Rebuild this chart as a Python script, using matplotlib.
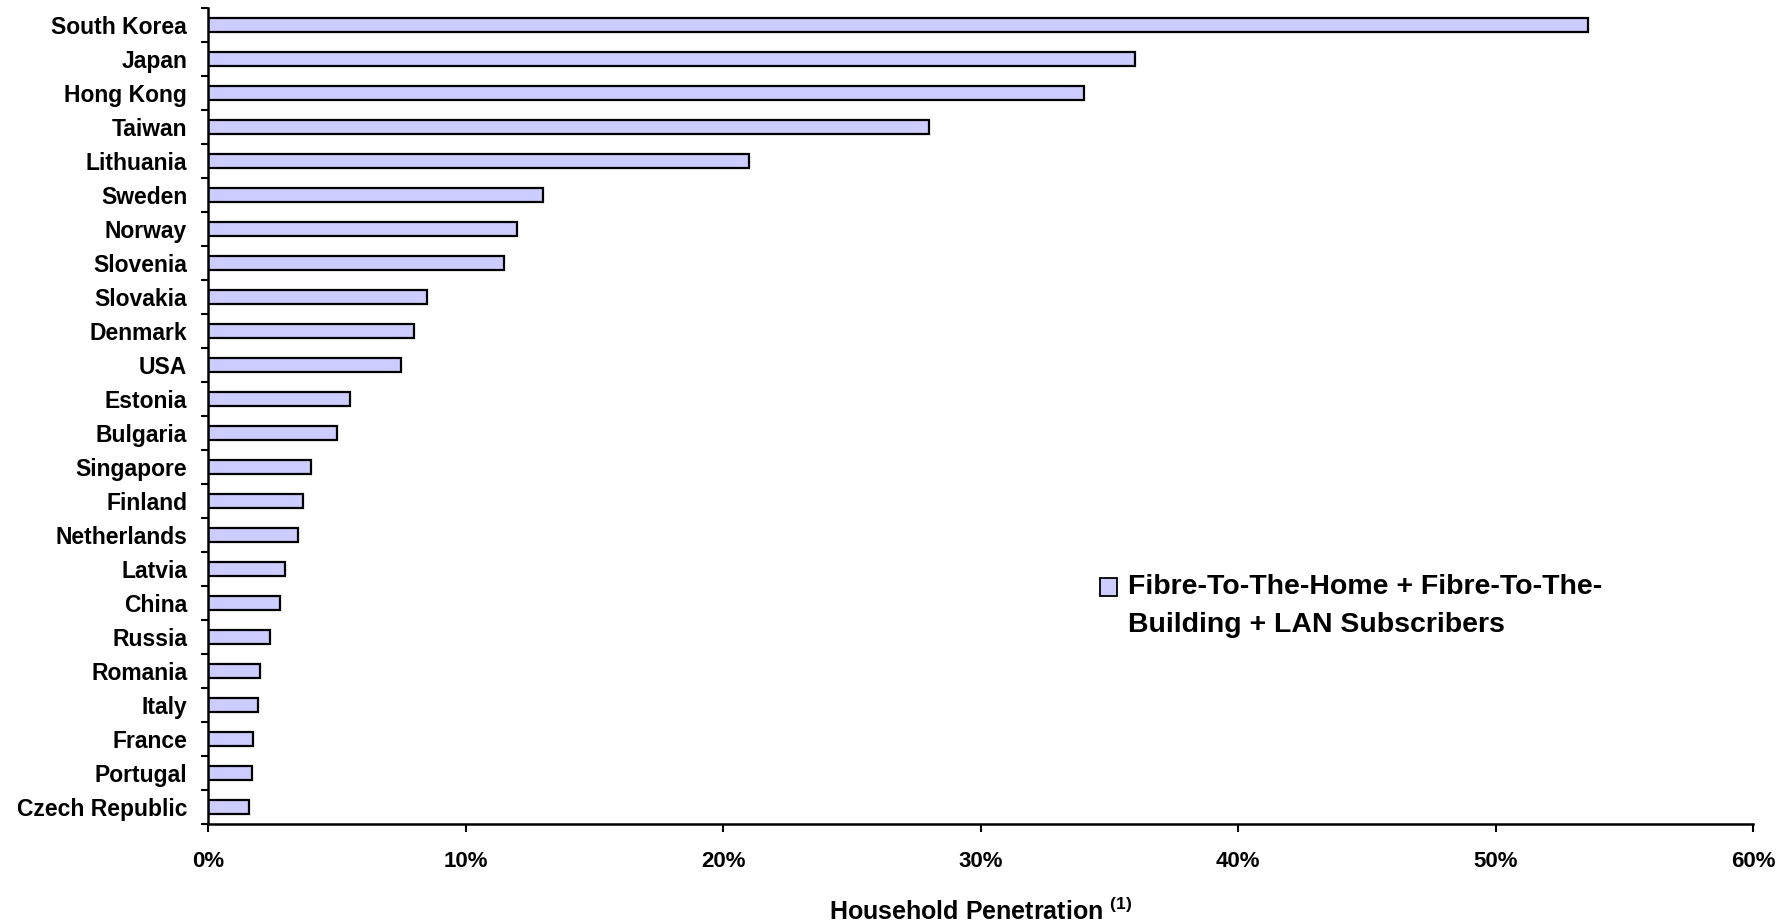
import numpy as np
import matplotlib
matplotlib.use("Agg")
import matplotlib.pyplot as plt
from matplotlib.patches import Rectangle
from matplotlib.ticker import FixedLocator, FuncFormatter

countries = ["South Korea", "Japan", "Hong Kong", "Taiwan", "Lithuania", "Sweden",
             "Norway", "Slovenia", "Slovakia", "Denmark", "USA", "Estonia", "Bulgaria",
             "Singapore", "Finland", "Netherlands", "Latvia", "China", "Russia",
             "Romania", "Italy", "France", "Portugal", "Czech Republic"]
penetration = [53.6, 36.0, 34.0, 28.0, 21.0, 13.0, 12.0, 11.5, 8.5, 8.0, 7.5, 5.5, 5.0,
               4.0, 3.7, 3.5, 3.0, 2.8, 2.4, 2.0, 1.95, 1.75, 1.7, 1.6]
xticks = [0, 10, 20, 30, 40, 50, 60]
legend_lines = ["Fibre-To-The-Home + Fibre-To-The-", "Building + LAN Subscribers"]
bar_color = "#CCCCFF"

plt.rcParams["font.family"] = ["Liberation Sans", "DejaVu Sans"]
plt.rcParams["font.weight"] = "bold"
plt.rcParams["mathtext.fontset"] = "custom"
plt.rcParams["mathtext.bf"] = "Liberation Sans:bold"
plt.rcParams["mathtext.rm"] = "Liberation Sans:bold"

fig = plt.figure(figsize=(17.87, 9.23), dpi=100)
ax = fig.add_axes([0.1164, 0.107, 0.8646, 0.884])

y = np.arange(len(countries))
ax.barh(y, penetration, height=0.42, color=bar_color, edgecolor="black", linewidth=1.6)

ax.set_xlim(0, 60)
ax.set_ylim(len(countries) - 0.5, -0.5)

# category ticks sit between bars, labels at bar centres
ax.yaxis.set_major_locator(FixedLocator(np.arange(-0.5, len(countries), 1.0)))
ax.yaxis.set_major_formatter(FuncFormatter(lambda v, p: ""))
ax.yaxis.set_minor_locator(FixedLocator(y))
ax.set_yticks(y, countries, minor=True)
ax.tick_params(axis="y", which="major", direction="out", length=5, width=1.5)
ax.tick_params(axis="y", which="minor", length=0, pad=15, labelsize=16.5)

ax.set_xticks(xticks, [f"{t}%" for t in xticks])
ax.tick_params(axis="x", direction="out", length=6, width=1.5, pad=13, labelsize=16)

for s in ["top", "right"]:
    ax.spines[s].set_visible(False)
for s in ["left", "bottom"]:
    ax.spines[s].set_linewidth(1.8)

ax.set_xlabel(r"Household Penetration $^{\mathbf{(1)}}$", fontsize=18,
              fontweight="bold", labelpad=19)

# legend drawn by hand so the swatch lines up with the first line
ax.add_patch(Rectangle((0.5773, 0.2794), 0.011, 0.022, transform=ax.transAxes,
                       facecolor=bar_color, edgecolor="black", linewidth=1.3,
                       clip_on=False))
ax.text(0.5955, 0.2904, legend_lines[0], transform=ax.transAxes, fontsize=20.5,
        fontweight="bold", va="center", ha="left")
ax.text(0.5955, 0.2904 - 0.046, legend_lines[1], transform=ax.transAxes, fontsize=20.5,
        fontweight="bold", va="center", ha="left")

plt.savefig("out.png", dpi=100)
